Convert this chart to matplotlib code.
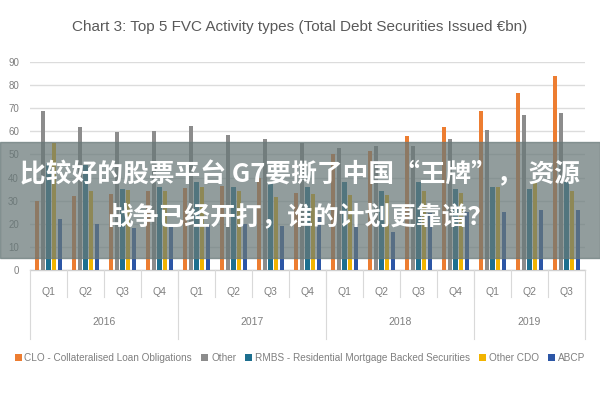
import matplotlib.pyplot as plt
from matplotlib.patches import Rectangle
import matplotlib.transforms as mtransforms
import numpy as np

quarters = ['Q1', 'Q2', 'Q3', 'Q4', 'Q1', 'Q2', 'Q3', 'Q4',
            'Q1', 'Q2', 'Q3', 'Q4', 'Q1', 'Q2', 'Q3']
years = ['2016', '2017', '2018', '2019']
year_sizes = [4, 4, 4, 3]

clo = [30, 32, 33, 34, 35.5, 36.5, 40, 33.5, 50, 51.5, 58, 62, 69, 76.5, 84]
other = [69, 62, 59.5, 60, 62.5, 58.5, 56.5, 55, 53, 53.5, 53.5, 56.5, 60.5, 67, 68]
rmbs = [46.5, 45.5, 35, 36, 38, 36, 38, 36, 38, 34, 38, 35, 36, 35, 38]
other_cdo = [55, 34, 34.5, 34, 36, 34, 31.5, 33, 32.5, 32.5, 34, 33.5, 36, 38, 34]
abcp = [22, 20, 18, 20, 19.5, 20, 19, 23, 20, 16.5, 24.5, 25, 25, 26, 26]

series = [
    ('CLO - Collateralised Loan Obligations', clo, '#ed7d31'),
    ('Other', other, '#8c8c8c'),
    ('RMBS - Residential Mortgage Backed Securities', rmbs, '#1d6f8f'),
    ('Other CDO', other_cdo, '#f2b400'),
    ('ABCP', abcp, '#2c56a6'),
]

plt.rcParams['font.family'] = ['Liberation Sans Narrow', 'Liberation Sans', 'DejaVu Sans']

fig = plt.figure(figsize=(6, 4), dpi=100)
ax = fig.add_axes([0.05, 0.325, 0.925, 0.52])

x = np.arange(len(quarters))
step = 0.157
width = 0.11
for i, (name, vals, col) in enumerate(series):
    ax.bar(x + (i - 2) * step, vals, width, color=col, label=name, zorder=3)

ax.set_xlim(-0.5, len(quarters) - 0.5)
ax.set_ylim(0, 90)
ax.set_yticks(range(0, 100, 10))
ax.grid(axis='y', color='#dcdcdc', lw=1, zorder=0)
for s in ax.spines.values():
    s.set_visible(False)
ax.tick_params(axis='y', length=0, labelsize=7, labelcolor='#7f7f7f', pad=8)
ax.set_xticks(x)
ax.set_xticklabels(quarters)
ax.tick_params(axis='x', length=0, labelsize=7.5, labelcolor='#7f7f7f', pad=12)

# two-level category axis
trans = mtransforms.blended_transform_factory(ax.transData, ax.transAxes)
ax.plot([-0.5, len(quarters) - 0.5], [0, 0], transform=trans, color='#d0d0d0', lw=1, clip_on=False)
for k in range(1, len(quarters)):
    ax.plot([k - 0.5, k - 0.5], [0, -0.13], transform=trans, color='#d9d9d9', lw=0.8, clip_on=False)
start = 0
bounds = [-0.5]
for name, n in zip(years, year_sizes):
    ax.text(start + (n - 1) / 2, -0.25, name, transform=trans, ha='center', va='center',
            fontsize=7.5, color='#7f7f7f')
    start += n
    bounds.append(start - 0.5)
for b in bounds:
    ax.plot([b, b], [0, -0.33], transform=trans, color='#d9d9d9', lw=0.8, clip_on=False)

fig.text(0.5, 0.932, 'Chart 3: Top 5 FVC Activity types (Total Debt Securities Issued €bn)',
         ha='center', va='center', fontsize=11, color='#595959')

fig.legend(loc='center', bbox_to_anchor=(0.5, 0.105), ncol=5, frameon=False,
           fontsize=7.2, labelcolor='#7f7f7f', handlelength=0.7, handleheight=0.7,
           handletextpad=0.3, columnspacing=0.9)

# overlay banner
fig.patches.append(Rectangle((0, 0.355), 1, 0.29, transform=fig.transFigure,
                             color='#687878', alpha=0.72, zorder=10))
cjk = ['Noto Sans CJK SC', 'DejaVu Sans']
fig.text(0.5, 0.562, '比较好的股票平台 G7要撕了中国“王牌”， 资源', ha='center', va='center',
         fontsize=18.5, color='white', fontweight='bold', family=cjk, zorder=11)
fig.text(0.5, 0.455, '战争已经开打，谁的计划更靠谱？', ha='center', va='center',
         fontsize=18.5, color='white', fontweight='bold', family=cjk, zorder=11)

fig.savefig('out.png', dpi=100)
